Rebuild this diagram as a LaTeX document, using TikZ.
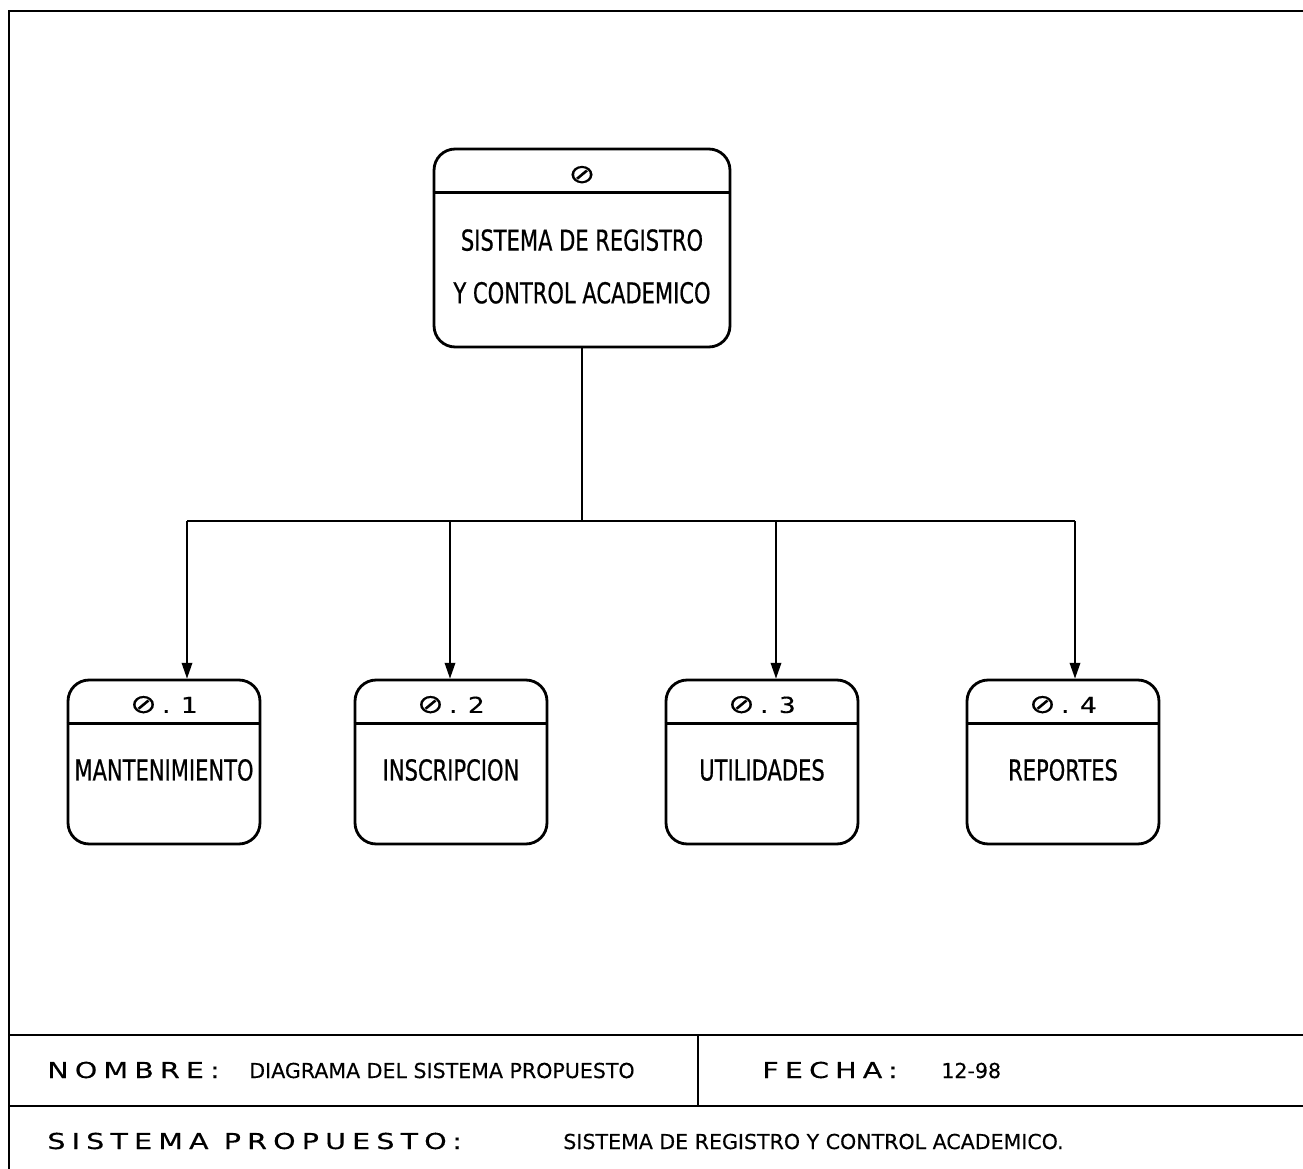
\documentclass[tikz,border=0pt]{standalone}
\usepackage{fontspec}
\usepackage{tikz}
\usetikzlibrary{
    calc,
    arrows.meta,
    positioning
}
\setmainfont{DejaVu Sans}
\newfontfamily\plotfont[FakeStretch=0.73,FakeBold=0.6]{DejaVu Sans}
\newfontfamily\plotwide[FakeStretch=1.3,LetterSpace=28,FakeBold=0.3]{DejaVu Sans}
\newfontfamily\plothead[FakeStretch=1.2,FakeBold=0.3]{DejaVu Sans}
\newfontfamily\plotsmall[FakeBold=0.3]{DejaVu Sans}
\newcommand{\zslash}{{\fontsize{15}{14}\selectfont ⊘}}
\newcommand{\hnum}[1]{\zslash\hspace{3pt}.\hspace{6pt}#1}
\tikzset{
    procbox/.style={draw, line width=1.6pt, rounded corners=12pt, minimum width=3.84cm, minimum height=3.28cm, inner sep=0pt},
    topbox/.style={procbox, minimum width=5.92cm, minimum height=3.96cm},
    hdr/.style={font=\plothead\fontsize{12.5}{14}\selectfont, inner sep=0pt},
    lbl/.style={font=\plotfont\fontsize{16.4}{30}\selectfont, align=center, inner sep=0pt},
    link/.style={line width=1pt},
    rule/.style={line width=1.5pt},
    txt/.style={inner sep=0pt, anchor=base west}
}

\begin{document}
\begin{tikzpicture}[x=0.02cm, y=-0.02cm]
        \useasboundingbox (0,0) rectangle (1303,1169);

        % marco y cajetin
        \draw[rule] (1303,11) -- (9,11) -- (9,1169);
        \draw[rule] (9,1035) -- (1303,1035);
        \draw[rule] (9,1106) -- (1303,1106);
        \draw[rule] (698,1035) -- (698,1106);

        % procesos
        \draw (582,248) node[topbox](p0){};
        \draw (164,762) node[procbox](p1){};
        \draw (451,762) node[procbox](p2){};
        \draw (762,762) node[procbox](p3){};
        \draw (1063,762) node[procbox](p4){};

        \draw[line width=1.6pt] ([yshift=-0.89cm]p0.north west) -- ([yshift=-0.89cm]p0.north east);
        \draw[line width=1.6pt] ([yshift=-0.9cm]p1.north west) -- ([yshift=-0.9cm]p1.north east);
        \draw[line width=1.6pt] ([yshift=-0.9cm]p2.north west) -- ([yshift=-0.9cm]p2.north east);
        \draw[line width=1.6pt] ([yshift=-0.9cm]p3.north west) -- ([yshift=-0.9cm]p3.north east);
        \draw[line width=1.6pt] ([yshift=-0.9cm]p4.north west) -- ([yshift=-0.9cm]p4.north east);

        \draw ([yshift=-0.54cm]p0.north) node[hdr](h0){\zslash};
        \draw ([yshift=-0.52cm]p1.north) node[hdr](h1){\hnum{1}};
        \draw ([yshift=-0.52cm]p2.north) node[hdr](h2){\hnum{2}};
        \draw ([yshift=-0.52cm]p3.north) node[hdr](h3){\hnum{3}};
        \draw ([yshift=-0.52cm]p4.north) node[hdr](h4){\hnum{4}};

        \draw ([yshift=-0.37cm]p0.center) node[lbl](l0){SISTEMA DE REGISTRO\\Y CONTROL ACADEMICO};
        \draw ([yshift=-0.16cm]p1.center) node[lbl](l1){MANTENIMIENTO};
        \draw ([yshift=-0.16cm]p2.center) node[lbl](l2){INSCRIPCION};
        \draw ([yshift=-0.16cm]p3.center) node[lbl](l3){UTILIDADES};
        \draw ([yshift=-0.16cm]p4.center) node[lbl](l4){REPORTES};

        % conexiones
        \coordinate (bus) at (582,521);
        \coordinate (j1) at (187,521);
        \coordinate (j2) at (450,521);
        \coordinate (j3) at (776,521);
        \coordinate (j4) at (1075,521);

        \draw[link] (p0) -- (bus);
        \draw[link] (j1) -- (j4);
        \draw[link, -{Triangle[length=9pt,width=6pt]}] (j1) -- (j1 |- p1.north);
        \draw[link, -{Triangle[length=9pt,width=6pt]}] (j2) -- (j2 |- p2.north);
        \draw[link, -{Triangle[length=9pt,width=6pt]}] (j3) -- (j3 |- p3.north);
        \draw[link, -{Triangle[length=9pt,width=6pt]}] (j4) -- (j4 |- p4.north);

        % cajetin
        \draw (47,1078) node[txt, font=\plotwide\fontsize{12.5}{14}\selectfont](nom){NOMBRE:};
        \draw (249,1078) node[txt, font=\plotsmall\fontsize{11.7}{14}\selectfont](nomv){DIAGRAMA DEL SISTEMA PROPUESTO};
        \draw (762,1078) node[txt, font=\plotwide\fontsize{12.5}{14}\selectfont](fec){FECHA:};
        \draw (941,1078) node[txt, font=\plotsmall\fontsize{11.7}{14}\selectfont](fecv){12-98};
        \draw (47,1149) node[txt, font=\plotwide\fontsize{12.5}{14}\selectfont](sis){SISTEMA PROPUESTO:};
        \draw (563,1149) node[txt, font=\plotsmall\fontsize{11.7}{14}\selectfont](sisv){SISTEMA DE REGISTRO Y CONTROL ACADEMICO.};
    \end{tikzpicture}
\end{document}
